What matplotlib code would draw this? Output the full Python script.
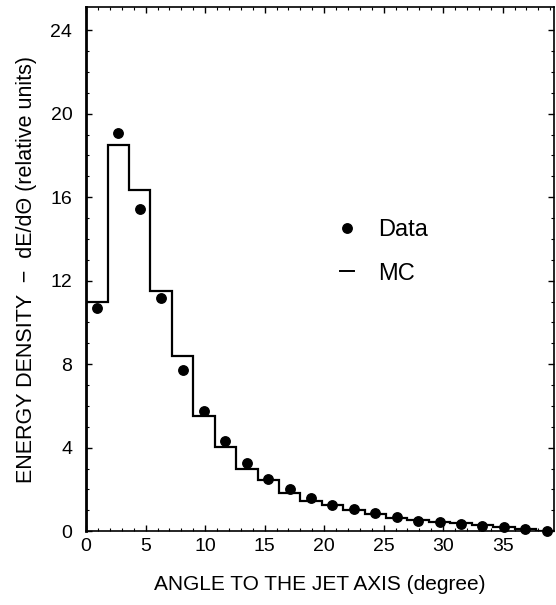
import numpy as np
import matplotlib.pyplot as plt
from matplotlib.lines import Line2D

# bins of 1.8 degree, 22 bins
bin_width = 1.8
n_bins = 22
mc = [11.0, 18.5, 16.35, 11.5, 8.4, 5.5, 4.05, 3.0, 2.45, 1.85, 1.45,
      1.25, 1.0, 0.8, 0.65, 0.55, 0.45, 0.38, 0.3, 0.22, 0.12, 0.0]
data = [10.7, 19.1, 15.45, 11.15, 7.7, 5.75, 4.3, 3.25, 2.5, 2.0, 1.6,
        1.25, 1.05, 0.85, 0.7, 0.5, 0.45, 0.35, 0.27, 0.2, 0.12, 0.02]

edges = np.arange(n_bins + 1) * bin_width
centers = edges[:-1] + bin_width / 2

plt.rcParams['font.family'] = ['Liberation Sans', 'DejaVu Sans']
fig = plt.figure(figsize=(5.56, 6.05), dpi=100)
ax = fig.add_axes([0.155, 0.122, 0.841, 0.866])

ax.stairs(mc, edges, color='black', lw=1.6)
ax.plot(centers, data, 'o', color='black', ms=6.8, clip_on=False)

ax.set_xlim(0, 39.3)
ax.set_ylim(0, 25.1)
ax.set_xticks(np.arange(0, 36, 5))
ax.set_yticks(np.arange(0, 25, 4))
ax.set_xticks(np.arange(0, 40, 1), minor=True)
ax.set_yticks(np.arange(0, 25, 1), minor=True)
ax.tick_params(which='both', direction='in', top=True, right=True)
ax.tick_params(which='major', length=4, width=1)
ax.tick_params(which='minor', length=2, width=0.8)
ax.tick_params(axis='x', labelsize=14, pad=5)
ax.tick_params(axis='y', labelsize=14, pad=10)
for s in ax.spines.values():
    s.set_linewidth(1.2)
ax.spines['left'].set_linewidth(2)

ax.set_xlabel('ANGLE TO THE JET AXIS (degree)', fontsize=15, labelpad=14)
ax.set_ylabel('ENERGY DENSITY  \u2212  dE/d\u0398 (relative units)', fontsize=15.5, labelpad=10)

handles = [Line2D([], [], marker='o', ls='none', color='black', ms=6.8),
           Line2D([], [], color='black', lw=1.4)]
ax.legend(handles, ['Data', 'MC'], loc='center left', bbox_to_anchor=(0.543, 0.533),
          frameon=False, handlelength=0.6, fontsize=17, labelspacing=0.9,
          handletextpad=1.0, borderpad=0, borderaxespad=0)

fig.savefig('out.png', dpi=100)
